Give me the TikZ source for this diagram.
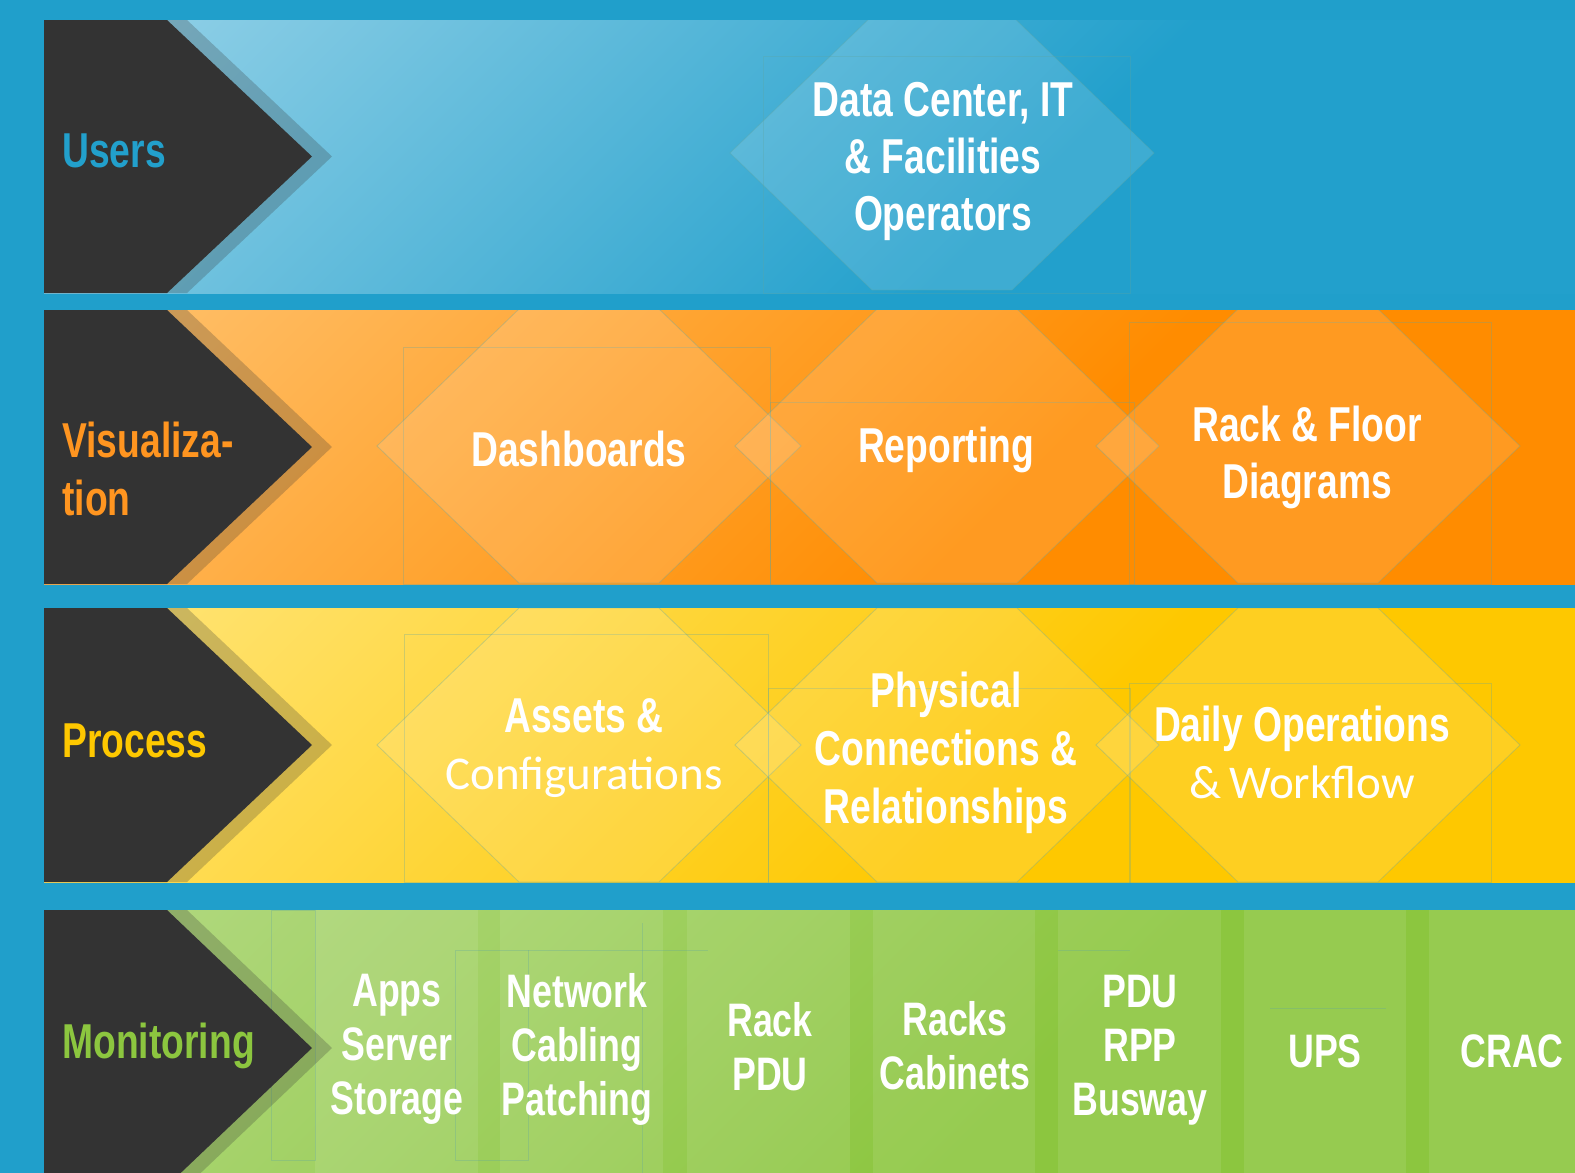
\documentclass[tikz,border=0pt]{standalone}
\usepackage{fontspec}
\setmainfont{Liberation Sans}
\newfontfamily\condfont[FakeStretch=0.76]{Liberation Sans}
\newfontfamily\litefont{Carlito}

\definecolor{bgblue}{HTML}{209FCB}
\definecolor{slate}{HTML}{333333}
\definecolor{usersLt}{HTML}{9AD4E9}
\definecolor{usersBase}{HTML}{22A0CC}
\definecolor{visLt}{HTML}{FFC472}
\definecolor{visBase}{HTML}{FF8C00}
\definecolor{procLt}{HTML}{FFE67E}
\definecolor{procBase}{HTML}{FEC800}
\definecolor{monLt}{HTML}{B4DA84}
\definecolor{monBase}{HTML}{8CC63F}
\definecolor{visTag}{HTML}{FF9520}
\definecolor{ghostline}{HTML}{5FA5A0}

\pgfdeclarehorizontalshading{usersshade}{100bp}{color(0bp)=(usersLt); color(14bp)=(usersLt); color(60bp)=(usersBase); color(100bp)=(usersBase)}
\pgfdeclarehorizontalshading{visshade}{100bp}{color(0bp)=(visLt); color(14bp)=(visLt); color(60bp)=(visBase); color(100bp)=(visBase)}
\pgfdeclarehorizontalshading{procshade}{100bp}{color(0bp)=(procLt); color(14bp)=(procLt); color(60bp)=(procBase); color(100bp)=(procBase)}
\pgfdeclarehorizontalshading{monshade}{100bp}{color(0bp)=(monLt); color(14bp)=(monLt); color(60bp)=(monBase); color(100bp)=(monBase)}

\tikzset{
  hexa/.style={fill=white, fill opacity=0.13, draw=ghostline, draw opacity=0.35, line width=0.4pt},
  chev/.style={fill=slate},
  chevshade/.style={fill=slate, fill opacity=0.25},
  col/.style={fill=white, fill opacity=0.09},
  ghost/.style={draw=ghostline, draw opacity=0.3, line width=0.4pt},
  bandshade/.style={shading=#1, shading angle=-45},
  tag/.style={anchor=west, inner sep=0, align=left,
    font=\condfont\bfseries\fontsize{24.5}{29}\selectfont},
  word/.style={text=white, inner sep=0, align=center,
    font=\condfont\bfseries\fontsize{24.5}{28.5}\selectfont},
  monword/.style={text=white, inner sep=0, align=center,
    font=\condfont\bfseries\fontsize{23.5}{27}\selectfont},
}

% one hexagon cell, centre x and y
\newcommand{\hexcell}[2]{%
  \draw[hexa] (#1-212,#2) -- (#1-70,#2-137) -- (#1+70,#2-137)
    -- (#1+212,#2) -- (#1+70,#2+137) -- (#1-70,#2+137) -- cycle;}
% dark arrow head on the left, top and bottom of the band
\newcommand{\chevron}[2]{%
  \fill[chevshade] (167,#1) -- (187,#1) -- (332,{(#1+#2)/2}) -- (187,#2) -- (167,#2) -- cycle;
  \fill[chev] (44,#1) -- (167,#1) -- (312,{(#1+#2)/2}) -- (167,#2) -- (44,#2) -- cycle;}

\begin{document}
\begin{tikzpicture}[x=0.5pt,y=-0.5pt]
  \useasboundingbox (0,0) rectangle (1575,1173);
  \clip (0,0) rectangle (1575,1173);
  \fill[bgblue] (0,0) rectangle (1575,1173);

  % Users
  \begin{scope}
    \clip (44,20) rectangle (1575,293);
    \shade[bandshade=usersshade] (44,20) rectangle (1575,293);
    \hexcell{942}{153}
    \draw[ghost] (763,56) rectangle (1130,293);
  \end{scope}
  \chevron{20}{293}
  \node[tag, text=usersBase] (users) at (62,151) {Users};
  \node[word] (operators) at (943,161) {Data Center, IT\\\& Facilities\\Operators};

  % Visualization
  \begin{scope}
    \clip (44,310) rectangle (1575,584);
    \shade[bandshade=visshade] (44,310) rectangle (1575,584);
    \draw[ghost] (403,347) rectangle (770,584);
    \draw[ghost] (770,402) rectangle (1134,584);
    \draw[ghost] (1129,322) rectangle (1491,584);
    \hexcell{589}{446}
    \hexcell{947}{446}
    \hexcell{1308}{446}
  \end{scope}
  \chevron{310}{584}
  \node[tag, text=visTag] (visual) at (62,469) {Visualiza-\\tion};
  \node[word] (dashboards) at (579,449) {Dashboards};
  \node[word] (reporting) at (946,450) {Reporting};
  \node[word] (floor) at (1307,457) {Rack \& Floor\\Diagrams};

  % Process
  \begin{scope}
    \clip (44,608) rectangle (1575,882);
    \shade[bandshade=procshade] (44,608) rectangle (1575,882);
    \draw[ghost] (404,634) rectangle (768,882);
    \draw[ghost] (768,688) rectangle (1130,882);
    \draw[ghost] (1129,683) rectangle (1491,882);
    \hexcell{589}{745}
    \hexcell{947}{745}
    \hexcell{1308}{745}
  \end{scope}
  \chevron{608}{882}
  \node[tag, text=procBase] (process) at (62,741) {Process};
  \node[word] (assets) at (584,748) {Assets \&\\{\litefont\mdseries\fontsize{23.5}{29}\selectfont Configurations}};
  \node[word, font=\condfont\bfseries\fontsize{24.5}{29}\selectfont] (physical) at (946,753) {Physical\\Connections \&\\Relationships};
  \node[word] (daily) at (1302,752) {Daily Operations\\{\litefont\mdseries\fontsize{23.5}{28.5}\selectfont \&\,Workflow}};

  % Monitoring
  \begin{scope}
    \clip (44,910) rectangle (1575,1186);
    \shade[bandshade=monshade] (44,910) rectangle (1575,1186);
    \fill[col] (315,910) rectangle (478,1186);
    \fill[col] (500,910) rectangle (663,1186);
    \fill[col] (687,910) rectangle (850,1186);
    \fill[col] (873,910) rectangle (1035,1186);
    \fill[col] (1058,910) rectangle (1221,1186);
    \fill[col] (1244,910) rectangle (1406,1186);
    \fill[col] (1429,910) rectangle (1575,1186);
    \draw[ghost] (271,910) rectangle (315,1160);
    \draw[ghost] (455,950) rectangle (528,1160);
    \draw[ghost] (528,950) -- (708,950);
    \draw[ghost] (642,923) -- (642,1173);
    \draw[ghost] (1058,950) -- (1130,950);
    \draw[ghost] (1270,1008) -- (1386,1008);
  \end{scope}
  \chevron{910}{1186}
  \node[tag, text=monBase] (monitoring) at (62,1046) {Monitoring};
  \node[monword] (apps) at (397,1049) {Apps\\Server\\Storage};
  \node[monword] (network) at (577,1049) {Network\\Cabling\\Patching};
  \node[monword] (rackpdu) at (770,1047) {Rack\\PDU};
  \node[monword] (racks) at (955,1046) {Racks\\Cabinets};
  \node[monword] (pdu) at (1140,1050) {PDU\\RPP\\Busway};
  \node[monword] (ups) at (1325,1051) {UPS};
  \node[monword] (crac) at (1512,1051) {CRAC};
\end{tikzpicture}
\end{document}
